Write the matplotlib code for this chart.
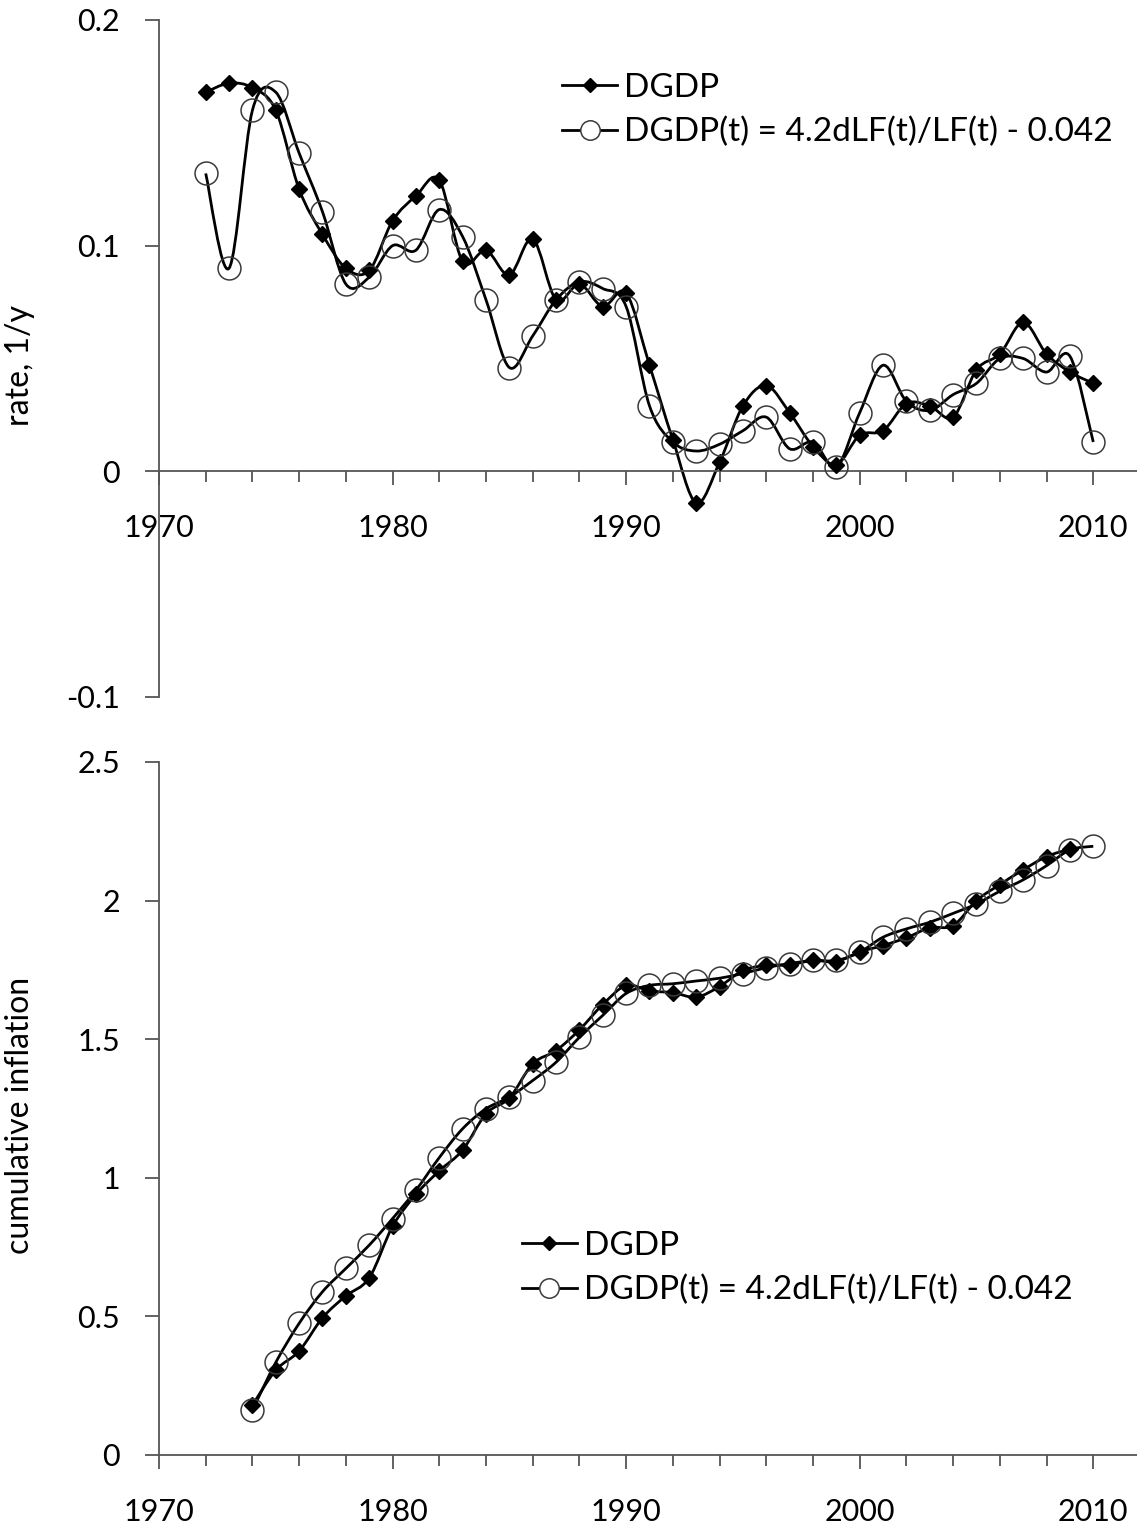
import numpy as np
import matplotlib
matplotlib.use("Agg")
import matplotlib.pyplot as plt
from matplotlib.path import Path
from matplotlib.patches import PathPatch
from matplotlib.lines import Line2D
from matplotlib.ticker import MultipleLocator

plt.rcParams['font.family'] = ['Lato', 'DejaVu Sans']

# top panel: annual rates 1972-2010
years_rate = list(range(1972, 2011))
dgdp_rate = [0.168, 0.172, 0.170, 0.160, 0.125, 0.105, 0.090, 0.089, 0.111, 0.122,
             0.129, 0.093, 0.098, 0.087, 0.103, 0.076, 0.083, 0.073, 0.079, 0.047,
             0.014, -0.014, 0.004, 0.029, 0.038, 0.026, 0.011, 0.003, 0.016, 0.018,
             0.030, 0.029, 0.024, 0.045, 0.052, 0.066, 0.052, 0.044, 0.039]
model_rate = [0.132, 0.090, 0.160, 0.168, 0.141, 0.115, 0.083, 0.086, 0.100, 0.098,
              0.116, 0.104, 0.076, 0.046, 0.060, 0.076, 0.084, 0.081, 0.073, 0.029,
              0.013, 0.009, 0.012, 0.018, 0.024, 0.010, 0.013, 0.002, 0.026, 0.047,
              0.031, 0.027, 0.034, 0.039, 0.050, 0.050, 0.044, 0.051, 0.013]

# bottom panel: cumulative inflation
years_cum_dgdp = list(range(1974, 2010))
dgdp_cum = [0.180, 0.306, 0.375, 0.495, 0.574, 0.639, 0.825, 0.940, 1.025, 1.100,
            1.231, 1.288, 1.411, 1.459, 1.534, 1.625, 1.694, 1.674, 1.668, 1.652,
            1.690, 1.748, 1.766, 1.768, 1.784, 1.780, 1.815, 1.838, 1.866, 1.902,
            1.910, 2.000, 2.058, 2.111, 2.159, 2.186]
years_cum_model = list(range(1974, 2011))
model_cum = [0.162, 0.334, 0.475, 0.589, 0.673, 0.757, 0.853, 0.955, 1.073, 1.177,
             1.249, 1.291, 1.351, 1.417, 1.507, 1.586, 1.665, 1.694, 1.700, 1.710,
             1.720, 1.737, 1.758, 1.773, 1.784, 1.784, 1.814, 1.868, 1.898, 1.922,
             1.954, 1.988, 2.034, 2.075, 2.126, 2.183, 2.196]

lab_dgdp = "DGDP"
lab_model = "DGDP(t) = 4.2dLF(t)/LF(t) - 0.042"

FS = 22      # tick labels
FS_LAB = 23  # axis titles
FS_LEG = 24  # legend
AXC = '#555555'


def smooth(ax, x, y):
    # excel-like smoothed line (catmull-rom as bezier)
    n = len(x)
    verts = [(x[0], y[0])]
    codes = [Path.MOVETO]
    for i in range(n - 1):
        a = i - 1 if i > 0 else i
        b = i + 2 if i + 2 < n else i + 1
        c1 = (x[i] + (x[i + 1] - x[a]) / 6, y[i] + (y[i + 1] - y[a]) / 6)
        c2 = (x[i + 1] - (x[b] - x[i]) / 6, y[i + 1] - (y[b] - y[i]) / 6)
        verts += [c1, c2, (x[i + 1], y[i + 1])]
        codes += [Path.CURVE4] * 3
    ax.add_patch(PathPatch(Path(verts, codes), facecolor='none', edgecolor='black',
                           lw=2.0, zorder=2))


def series(ax, x, y, kind):
    smooth(ax, x, y)
    if kind == 'd':
        ax.plot(x, y, ls='none', marker='D', ms=8.5, mfc='black', mec='black', zorder=3)
    else:
        ax.plot(x, y, ls='none', marker='o', ms=16.5, mfc='none', mec='#3a3a3a',
                mew=1.1, zorder=3)


def style(ax):
    for s in ['top', 'right']:
        ax.spines[s].set_visible(False)
    for s in ['left', 'bottom']:
        ax.spines[s].set_color(AXC)
        ax.spines[s].set_linewidth(1.3)
    ax.set_xlim(1970, 2012)
    ax.xaxis.set_major_locator(MultipleLocator(10))
    ax.xaxis.set_minor_locator(MultipleLocator(2))
    ax.tick_params(axis='x', which='major', direction='out', length=10, width=1.3,
                   color=AXC, labelsize=FS, pad=21)
    ax.tick_params(axis='x', which='minor', direction='out', length=8, width=1.3, color=AXC)
    ax.tick_params(axis='y', which='major', direction='out', length=10, width=1.3,
                   color=AXC, labelsize=FS, pad=18)


def legend(ax, x0, y0):
    h = [Line2D([], [], color='black', lw=2, marker='D', ms=7, mfc='black', mec='black'),
         Line2D([], [], color='black', lw=2, marker='o', ms=14, mfc='white', mec='#3a3a3a',
                mew=1.1)]
    ax.legend(h, [lab_dgdp, lab_model], loc='upper left', bbox_to_anchor=(x0, y0),
              frameon=False, fontsize=FS_LEG, handlelength=1.65, handletextpad=0.2,
              borderpad=0, borderaxespad=0, labelspacing=0.42, numpoints=1)


fig = plt.figure(figsize=(11.37, 15.31), dpi=100)

ax1 = fig.add_axes([159 / 1137, 1 - 697 / 1531, 981 / 1137, 677 / 1531])
series(ax1, years_rate, dgdp_rate, 'd')
series(ax1, years_rate, model_rate, 'o')
style(ax1)
ax1.set_ylim(-0.1, 0.2)
ax1.set_yticks([-0.1, 0, 0.1, 0.2])
ax1.set_yticklabels(['-0.1', '0', '0.1', '0.2'])
ax1.spines['bottom'].set_position(('data', 0))
ax1.set_ylabel('rate, 1/y', fontsize=FS_LAB)
ax1.yaxis.set_label_coords(-0.126, 0.49)
legend(ax1, 0.411, 0.922)

ax2 = fig.add_axes([159 / 1137, 1 - 1455 / 1531, 981 / 1137, 693 / 1531])
series(ax2, years_cum_dgdp, dgdp_cum, 'd')
series(ax2, years_cum_model, model_cum, 'o')
style(ax2)
ax2.set_ylim(0, 2.5)
ax2.set_yticks([0, 0.5, 1, 1.5, 2, 2.5])
ax2.set_yticklabels(['0', '0.5', '1', '1.5', '2', '2.5'])
ax2.set_ylabel('cumulative inflation', fontsize=FS_LAB)
ax2.yaxis.set_label_coords(-0.126, 0.49)
legend(ax2, 0.370, 0.323)

fig.savefig('out.png', dpi=100)
